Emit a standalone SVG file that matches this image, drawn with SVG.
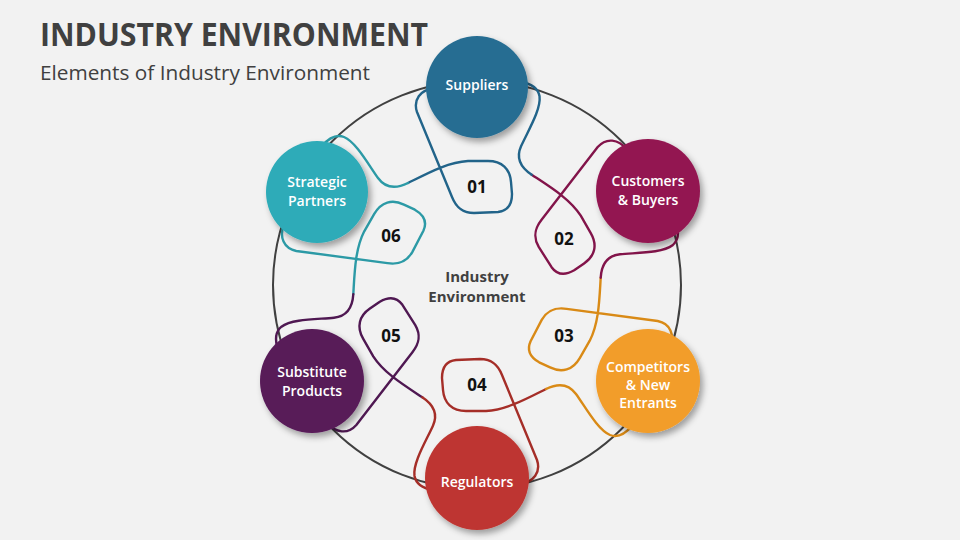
<svg xmlns="http://www.w3.org/2000/svg" xmlns:xlink="http://www.w3.org/1999/xlink" width="960" height="540" viewBox="0 0 960 540">
<defs>
<style>
.title{font-family:"Open Sans","Liberation Sans",sans-serif;font-weight:700;font-size:32px;fill:#404040}
.sub{font-family:"Open Sans","Liberation Sans",sans-serif;font-size:20px;fill:#404040}
.lbl{font-family:"Open Sans","Liberation Sans",sans-serif;font-weight:600;font-size:14px;fill:#ffffff;text-anchor:middle}
.num{font-family:"Open Sans","Liberation Sans",sans-serif;font-weight:700;font-size:17px;fill:#111111;text-anchor:middle}
.ctr{font-family:"Open Sans","Liberation Sans",sans-serif;font-weight:700;font-size:15px;fill:#404040;text-anchor:middle}
.loop{fill:none;stroke-width:2.4;stroke-linecap:round;stroke-linejoin:round}
</style>
<filter id="sh" x="-30%" y="-30%" width="160%" height="160%">
<feDropShadow dx="3" dy="4" stdDeviation="3" flood-color="#000" flood-opacity="0.35"/>
</filter>
<path id="segA" d="M 434 88 C 420 90, 413 100, 417 112 L 452 197 C 456 207, 462 213, 474 213 L 498 212 C 508 211, 512 204, 512 194 L 511 182 C 510 169, 502 161, 488 161 L 468 161 C 448 162, 428 173, 408 183"/>
<path id="segB" d="M 408 183 C 396 189, 386 189, 378 178 C 368 164, 356 142, 344 137 C 336 134, 328 139, 322 146"/>
</defs>
<rect width="960" height="540" fill="#F2F2F2"/>
<text class="title" x="40" y="46" textLength="388" lengthAdjust="spacingAndGlyphs">INDUSTRY ENVIRONMENT</text>
<text class="sub" x="40" y="80" textLength="330" lengthAdjust="spacingAndGlyphs">Elements of Industry Environment</text>
<circle cx="477" cy="285" r="204" fill="none" stroke="#404040" stroke-width="2"/>
<g id="connectors">
<use xlink:href="#segA" class="loop" stroke="#22648A"/>
<use xlink:href="#segB" class="loop" stroke="#2C9AA6"/>
<use xlink:href="#segA" class="loop" stroke="#82144A" transform="rotate(60 477 286)"/>
<use xlink:href="#segB" class="loop" stroke="#22648A" transform="rotate(60 477 286)"/>
<use xlink:href="#segA" class="loop" stroke="#D98A16" transform="rotate(120 477 286)"/>
<use xlink:href="#segB" class="loop" stroke="#82144A" transform="rotate(120 477 286)"/>
<use xlink:href="#segA" class="loop" stroke="#A52E28" transform="rotate(180 477 286)"/>
<use xlink:href="#segB" class="loop" stroke="#D98A16" transform="rotate(180 477 286)"/>
<use xlink:href="#segA" class="loop" stroke="#4F1852" transform="rotate(240 477 286)"/>
<use xlink:href="#segB" class="loop" stroke="#A52E28" transform="rotate(240 477 286)"/>
<use xlink:href="#segA" class="loop" stroke="#2C9AA6" transform="rotate(300 477 286)"/>
<use xlink:href="#segB" class="loop" stroke="#4F1852" transform="rotate(300 477 286)"/>
</g>
<g id="numbers">
<text class="num" x="477" y="193">01</text>
<text class="num" x="564" y="245">02</text>
<text class="num" x="564" y="342">03</text>
<text class="num" x="477" y="391">04</text>
<text class="num" x="391" y="342">05</text>
<text class="num" x="391" y="242">06</text>
</g>
<g id="center-label">
<text class="ctr" x="477" y="282">Industry</text>
<text class="ctr" x="477" y="302">Environment</text>
</g>
<g id="node-suppliers">
<circle cx="477" cy="87" r="51" fill="#276D92" filter="url(#sh)"/>
<text class="lbl" x="477" y="90">Suppliers</text>
</g>
<g id="node-customers">
<circle cx="648" cy="191" r="52" fill="#931651" filter="url(#sh)"/>
<text class="lbl" x="648" y="186">Customers</text>
<text class="lbl" x="648" y="205">&amp; Buyers</text>
</g>
<g id="node-competitors">
<circle cx="648" cy="381" r="52" fill="#F29D2A" filter="url(#sh)"/>
<text class="lbl" x="648" y="372">Competitors</text>
<text class="lbl" x="648" y="390">&amp; New</text>
<text class="lbl" x="648" y="408">Entrants</text>
</g>
<g id="node-regulators">
<circle cx="477" cy="478" r="52" fill="#BE3630" filter="url(#sh)"/>
<text class="lbl" x="477" y="487">Regulators</text>
</g>
<g id="node-substitute">
<circle cx="312" cy="381" r="52" fill="#581A59" filter="url(#sh)"/>
<text class="lbl" x="312" y="377">Substitute</text>
<text class="lbl" x="312" y="396">Products</text>
</g>
<g id="node-strategic">
<circle cx="317" cy="192" r="51" fill="#2DABB8" filter="url(#sh)"/>
<text class="lbl" x="317" y="187">Strategic</text>
<text class="lbl" x="317" y="206">Partners</text>
</g>
</svg>
